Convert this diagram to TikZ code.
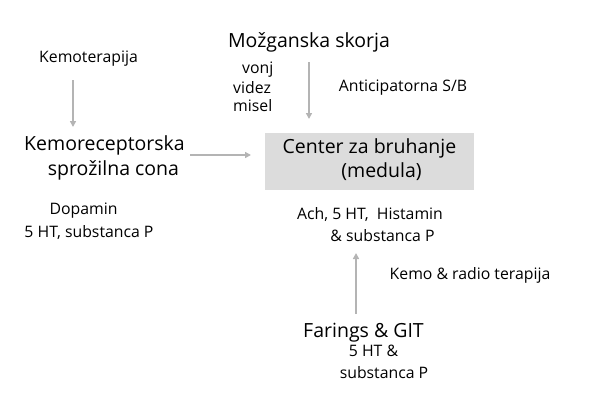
\documentclass[tikz,border=0pt]{standalone}
\usepackage{fontspec}
\setmainfont{Open Sans}
\usetikzlibrary{arrows.meta}
\definecolor{arrgray}{HTML}{B4B4B4}
\definecolor{boxgray}{HTML}{DCDCDC}
\tikzset{
  big/.style={font=\fontsize{19.5}{22}\selectfont, inner sep=0pt},
  small/.style={font=\fontsize{15.8}{18}\selectfont, inner sep=0pt},
  arr/.style={draw=arrgray, line width=1.8pt, -{Triangle[length=6pt,width=6pt]}},
  cbox/.style={fill=boxgray, draw=none, minimum width=209pt, minimum height=57pt, inner sep=0pt},
}
\begin{document}
\begin{tikzpicture}[x=1pt,y=-1pt]
\useasboundingbox (0,0) rectangle (596,397);
% centre box
\node[cbox] (box) at (369.5,161.5) {};
\node[big] (c1) at (369.5,148) {Center za bruhanje};
\node[big] (c2) at (381.5,172) {(medula)};
% top
\node[big] (mozg) at (309,42) {Možganska skorja};
\node[small,anchor=west] (vonj) at (242,70) {vonj};
\node[small,anchor=west] (videz) at (233,88) {videz};
\node[small,anchor=west] (misel) at (233,106) {misel};
\node[small] (antic) at (403,88) {Anticipatorna S/B};
% left
\node[small] (kemot) at (88.5,59) {Kemoterapija};
\node[big] (kr1) at (104.5,145) {Kemoreceptorska};
\node[big] (kr2) at (113.5,170) {sprožilna cona};
\node[small] (dop) at (83.5,211) {Dopamin};
\node[small] (ht) at (89,233) {5 HT, substanca P};
% below box
\node[small] (ach) at (370,215) {Ach, 5 HT,\ \ Histamin};
\node[small] (subs) at (382.5,236) {\& substanca P};
\node[small] (kemo) at (470,275) {Kemo \& radio terapija};
% bottom
\node[big] (far) at (363.5,333) {Farings \& GIT};
\node[small] (ht2) at (373.5,351) {5 HT \&};
\node[small] (sub2) at (384,373) {substanca P};
% arrow endpoints
\coordinate (a1s) at (73,80);
\coordinate (a1e) at (73,127);
\coordinate (a2s) at (309,62);
\coordinate (a2e) at (309,119);
\coordinate (a3s) at (190,155);
\coordinate (a3e) at (251,155);
\coordinate (a4s) at (356,314);
\coordinate (a4e) at (356,253);
\draw[arr] (a1s) -- (a1e);
\draw[arr] (a2s) -- (a2e);
\draw[arr] (a3s) -- (a3e);
\draw[arr] (a4s) -- (a4e);
\end{tikzpicture}
\end{document}
